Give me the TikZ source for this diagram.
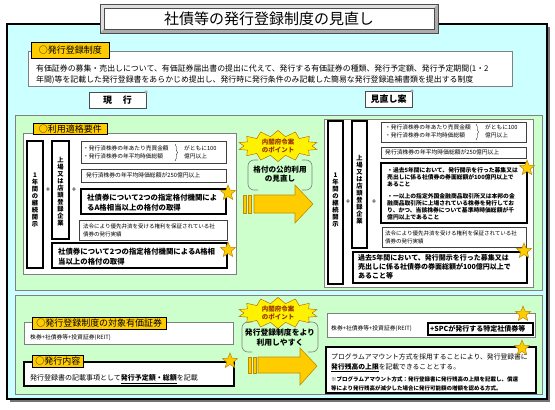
\documentclass[tikz,border=0pt]{standalone}
\usepackage{fontspec}
\setmainfont{Noto Sans CJK JP}
\usepackage{tikz}
\usetikzlibrary{shapes.geometric,shapes.symbols,decorations.pathreplacing,positioning}
\tikzset{>=stealth}

\definecolor{panelcyan}{RGB}{204,255,255}
\definecolor{panelgreen}{RGB}{204,255,204}
\definecolor{tagorange}{RGB}{255,204,0}
\definecolor{starfill}{RGB}{255,204,0}
\definecolor{staredge}{RGB}{185,135,0}
\definecolor{burstred}{RGB}{153,51,0}
\definecolor{arrowedge}{RGB}{190,140,0}

\tikzset{
  thinbox/.style={fill=white, draw=black!75, line width=0.5pt},
  thickbox/.style={fill=white, draw=black, line width=1.4pt},
  vbox/.style={fill=white, draw=black, line width=1.2pt},
  tagbox/.style={fill=tagorange, draw=black, line width=0.5pt, inner sep=1pt, font=\fontsize{9}{10}\selectfont},
  tabbox/.style={fill=white, draw=black!70, line width=0.6pt},
  vtext/.style={inner sep=0pt, align=center, font=\bfseries\fontsize{6.3}{7}\selectfont},
  txt/.style={anchor=west, inner sep=0pt, align=left},
  starmark/.style={star, star points=5, star point ratio=2.3, fill=starfill, draw=staredge, line width=0.5pt, minimum size=16pt, inner sep=0pt},
  burst/.style={starburst, starburst points=14, starburst point height=6pt, random starburst=0, fill=yellow, draw=orange!70!black, line width=0.4pt, inner sep=0pt, text=burstred, align=center, font=\bfseries\fontsize{6.5}{7.5}\selectfont},
  bigarrow/.style={fill=tagorange, draw=arrowedge, line width=0.6pt},
  bracket/.style={draw=gray, line width=0.6pt, rounded corners=6pt}
}

\begin{document}
\begin{tikzpicture}[x=1pt, y=-1pt]
        \useasboundingbox (0,0) rectangle (555,410);

        % outer panel
        \fill[black!55] (10,27) rectangle (550,402);
        \draw[fill=panelcyan, draw=black, line width=1.2pt] (7,24) rectangle (547,399);

        % title
        \fill[gray!25] (100,4) rectangle (438,33);
        \fill[gray!65] (438,4) -- (438,33) -- (100,33) -- (104,29) -- (434,29) -- (434,8) -- cycle;
        \draw[black!70] (100,4) rectangle (438,33);
        \draw[fill=white, draw=black!70] (104,8) rectangle (434,29);
        \node[font=\fontsize{15}{17}\selectfont] (title) at (269,18.5) {社債等の発行登録制度の見直し};

        % system description
        \draw[fill=white, draw=gray] (28,51) rectangle (512,86);
        \node[tagbox, anchor=north west, minimum width=78pt, minimum height=16pt] (tagsys) at (31,42) {○発行登録制度};
        \node[txt, font=\fontsize{7.9}{11}\selectfont] (sysdesc) at (36,74.5) {有価証券の募集・売出しについて、有価証券届出書の提出に代えて、発行する有価証券の種類、発行予定額、発行予定期間(1・2\\年間)等を記載した発行登録書をあらかじめ提出し、発行時に発行条件のみ記載した簡易な発行登録追補書類を提出する制度};

        % tabs
        \draw[tabbox] (89,92) rectangle (146,108);
        \draw[fill=white, draw=black!60] (146,92) circle (1.3);
        \node[font=\bfseries\fontsize{9}{10}\selectfont] (tabnow) at (117.5,100) {現\hspace{1.2em}行};
        \draw[tabbox] (365,91) rectangle (412,107);
        \draw[fill=white, draw=black!60] (412,91) circle (1.3);
        \node[font=\bfseries\fontsize{9}{10}\selectfont] (tabnew) at (388.5,99) {見直し案};

        % eligibility panel
        \draw[fill=panelgreen, draw=gray] (15,115) rectangle (542,290);
        \draw[fill=white, draw=gray] (23,133) rectangle (236,274);
        \node[tagbox, anchor=north west, minimum width=74pt, minimum height=11pt] (tagreq) at (33,123) {○利用適格要件};

        % current requirements
        \draw[vbox] (27,141) rectangle (43,268);
        \node[vtext] (contL) at (35,200) {1\\年\\間\\の\\継\\続\\開\\示};
        \node[font=\fontsize{8}{9}\selectfont] (plusLa) at (48,190) {+};
        \draw[vbox] (52,141) rectangle (69,239);
        \node[vtext] (listL) at (60.5,192) {上\\場\\又\\は\\店\\頭\\登\\録\\企\\業};
        \node[font=\fontsize{8}{9}\selectfont] (plusLb) at (74,190) {+};

        \draw[thinbox] (81,141) rectangle (226,163);
        \node[txt, font=\fontsize{5.7}{8}\selectfont] (amtL) at (83,152.5) {・発行済株券の年あたり売買金額\\・発行済株券の年平均時価総額};
        \draw[decorate, decoration={brace, amplitude=2.5pt}] (175,144) -- (175,161);
        \node[txt, font=\fontsize{5.7}{8}\selectfont] (bothL) at (184,152.5) {がともに100\\億円以上};

        \draw[thinbox] (81,169) rectangle (226,182);
        \node[txt, font=\fontsize{5.8}{7}\selectfont] (capL) at (86,175.5) {発行済株券の年平均時価総額が250億円以上};

        \draw[thickbox] (81,189) rectangle (226,214);
        \node[txt, font=\bfseries\fontsize{7.4}{10}\selectfont] (rateL) at (87,202.5) {社債券について2つの指定格付機関によ\\るA格相当以上の格付の取得};
        \node[starmark] (starLa) at (228,193) {};

        \draw[thinbox] (79,220) rectangle (227,240);
        \node[txt, font=\fontsize{5.5}{8}\selectfont] (prefL) at (83,230) {法令により優先弁済を受ける権利を保証されている社\\債券の発行実績};

        \draw[thickbox] (52,243) rectangle (227,268);
        \node[txt, font=\bfseries\fontsize{7.4}{10}\selectfont] (rateLb) at (58,257) {社債券について2つの指定格付機関によるA格相\\当以上の格付の取得};
        \node[starmark] (starLb) at (228,250) {};

        % point 1
        \node[burst, minimum width=80pt, minimum height=26pt] (pointA) at (278,146) {内閣府令案\\のポイント};
        \draw[bracket] (258,160) -- (248,160) -- (248,190) -- (258,190);
        \draw[bracket] (302,160) -- (312,160) -- (312,190) -- (302,190);
        \node[align=center, font=\bfseries\fontsize{7.6}{9}\selectfont] (rating) at (280,174.5) {格付の公的利用\\の見直し};
        \draw[bigarrow] (243,195) rectangle (246,213);
        \draw[bigarrow] (248,195) rectangle (251,213);
        \draw[bigarrow] (254,195) -- (295,195) -- (295,185) -- (313,204) -- (295,223) -- (295,213) -- (254,213) -- cycle;

        % revised requirements
        \draw[fill=white, draw=gray] (324,119) rectangle (533,287);
        \draw[vbox] (328,121) rectangle (343,284);
        \node[vtext] (contR) at (335.5,200) {1\\年\\間\\の\\継\\続\\開\\示};
        \node[font=\fontsize{8}{9}\selectfont] (plusRa) at (348,202) {+};
        \draw[vbox] (352,121) rectangle (367,248);
        \node[vtext] (listR) at (359.5,190) {上\\場\\又\\は\\店\\頭\\登\\録\\企\\業};
        \node[font=\fontsize{8}{9}\selectfont] (plusRb) at (374,202) {+};

        \draw[thinbox] (381,122) rectangle (526,142);
        \node[txt, font=\fontsize{5.7}{7.5}\selectfont] (amtR) at (385,131.5) {・発行済株券の年あたり売買金額\\・発行済株券の年平均時価総額};
        \draw[decorate, decoration={brace, amplitude=2.5pt}] (476,124) -- (476,140);
        \node[txt, font=\fontsize{5.7}{7.5}\selectfont] (bothR) at (485,131.5) {がともに100\\億円以上};

        \draw[thinbox] (381,147) rectangle (526,158);
        \node[txt, font=\fontsize{5.8}{7}\selectfont] (capR) at (385,152.5) {発行済株券の年平均時価総額が250億円以上};

        \draw[thickbox] (381,163) rectangle (527,223);
        \node[txt, font=\bfseries\fontsize{5.8}{7}\selectfont] (issueR) at (387,177) {・過去5年間において、発行開示を行った募集又は\\売出しに係る社債券の券面総額が100億円以上で\\あること};
        \node[txt, font=\bfseries\fontsize{5.8}{7}\selectfont] (listedR) at (387,206.5) {・一以上の指定外国金融商品取引所又は本邦の金\\融商品取引所に上場されている株券を発行してお\\り、かつ、当該株券について基準時時価総額が千\\億円以上であること};
        \node[starmark] (starRa) at (527,168) {};

        \draw[thinbox] (382,227) rectangle (526,247);
        \node[txt, font=\fontsize{5.5}{8}\selectfont] (prefR) at (385,237) {法令により優先弁済を受ける権利を保証されている社\\債券の発行実績};

        \draw[thickbox] (353,252) rectangle (527,283);
        \node[txt, font=\bfseries\fontsize{7}{9}\selectfont] (issueRb) at (358,267) {過去5年間において、発行開示を行った募集又は\\売出しに係る社債券の券面総額が100億円以上で\\あること等};
        \node[starmark] (starRb) at (524,251) {};

        % securities and contents panel
        \draw[fill=panelgreen, draw=gray] (15,295) rectangle (542,394);

        \draw[fill=white, draw=gray] (24,322) rectangle (233,344);
        \node[tagbox, anchor=north west, minimum width=134pt, minimum height=12pt] (tagsec) at (32,317) {○発行登録制度の対象有価証券};
        \node[txt, font=\fontsize{5.8}{7}\selectfont] (secL) at (30,338) {株券+社債券等+投資証券(REIT)};

        \draw[thickbox] (24,362) rectangle (234,386);
        \node[tagbox, anchor=north west, minimum width=51pt, minimum height=12pt] (tagcont) at (32,355) {○発行内容};
        \node[txt, font=\fontsize{7}{8}\selectfont] (contentL) at (30,379) {発行登録書の記載事項として\underline{\bfseries 発行予定額・総額}を記載};
        \node[starmark] (starLc) at (230,361) {};

        % point 2
        \node[burst, minimum width=80pt, minimum height=20pt] (pointB) at (278,313) {内閣府令案\\のポイント};
        \draw[bracket] (252,322) -- (242,322) -- (242,352) -- (252,352);
        \draw[bracket] (308,322) -- (318,322) -- (318,352) -- (308,352);
        \node[align=center, font=\bfseries\fontsize{7.8}{10}\selectfont] (easier) at (280,337.5) {発行登録制度をより\\利用しやすく};
        \draw[bigarrow] (248,357) rectangle (251,373);
        \draw[bigarrow] (253,357) rectangle (256,373);
        \draw[bigarrow] (258,357) -- (300,357) -- (300,348) -- (317,366) -- (300,385) -- (300,373) -- (258,373) -- cycle;

        % revised securities and contents
        \draw[fill=white, draw=gray] (327,313) rectangle (535,337);
        \node[txt, font=\fontsize{5.8}{7}\selectfont] (secR) at (331,329) {株券+社債券等+投資証券(REIT)};
        \draw[thickbox] (428,323) rectangle (533,335);
        \node[txt, font=\bfseries\fontsize{7}{8}\selectfont] (spc) at (430,329) {+SPCが発行する特定社債券等};
        \node[starmark] (starRc) at (523,314) {};

        \draw[thickbox] (326,347) rectangle (536,393);
        \node[txt, font=\fontsize{6.8}{10}\selectfont] (program) at (331,363) {プログラムアマウント方式を採用することにより、発行登録書に\\\underline{\bfseries 発行残高の上限}を記載できることとする。};
        \node[txt, font=\bfseries\fontsize{5.5}{9}\selectfont] (note) at (331,383.5) {※プログラムアマウント方式：発行登録書に発行残高の上限を記載し、償還\\等により発行残高が減少した場合に発行可能額の増額を認める方式。};
        \node[starmark] (starRd) at (522,348) {};
      \end{tikzpicture}
\end{document}
